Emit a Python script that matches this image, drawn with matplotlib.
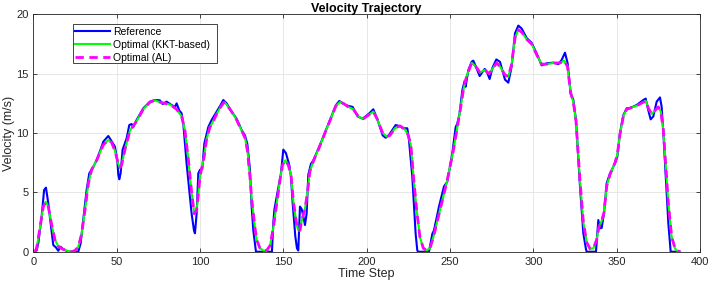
import matplotlib
matplotlib.use("Agg")
import matplotlib.pyplot as plt
from matplotlib.patches import Rectangle

# reference velocity (time step, m/s)
t_ref = [1, 2, 3, 5, 6.5, 7.6, 9, 10.4, 12, 13.6, 15, 16.4, 18, 21, 27, 28.4, 30, 32, 33.6, 36,
         38, 40.6, 42, 45, 46.6, 49, 50.4, 51, 51.6, 52.4, 53.6, 56, 57.6, 59, 60, 62, 66, 70, 73, 74,
         76, 77.6, 80, 83, 85, 86, 87.6, 89, 90, 91, 92, 93.6, 95, 96.4, 97, 98, 99, 100, 101.4, 102.6,
         105, 107, 110, 112.4, 114, 116, 119, 122, 125, 127, 128.4, 130, 131, 132, 133.6, 143.2, 144,
         144.6, 145.6, 148.6, 150, 151.6, 153.6, 154.6, 155.6, 157.2, 158.2, 159, 160, 161, 162, 163,
         164, 165, 166.6, 168, 171.6, 177.6, 181.6, 183.6, 185.6, 188.6, 191.6, 194.6, 197.6, 201.6,
         204, 206.6, 209.6, 211.4, 213.4, 217.4, 219.4, 222.4, 224.4, 225.4, 227.4, 229.4, 230.4, 231,
         237.4, 239.4, 240.4, 243.4, 246.4, 248.4, 251.4, 253.4, 254.4, 255.8, 257.4, 258.8, 259.4,
         261, 263, 264, 265.5, 267.8, 270.8, 272, 273.8, 275.5, 277.8, 280, 283, 285, 287, 289, 291,
         293, 296, 299, 302, 305, 308, 312, 315, 317, 319, 320.6, 322.4, 324, 325.6, 328, 330, 331.6,
         332, 337.6, 339, 340, 341, 342.4, 344, 346, 349, 350.4, 352, 354, 356, 358, 362, 366, 367.4,
         369, 370.4, 372, 374, 376, 377, 378, 379.6, 381, 382.4, 388]
v_ref = [0, 0.1, 0.7, 2.95, 5.2, 5.4, 4.1, 2.4, 0.56, 0.36, 0.08, 0.42, 0.2, 0, 0, 0.7, 2.67, 5.2, 6.6, 7.16,
         7.7, 8.7, 9.27, 9.75, 9.4, 8.85, 7.7, 6.5, 6.1, 6.6, 8.6, 9.55, 10.67, 10.76, 10.5, 11.1, 12.08, 12.64, 12.78, 12.78,
         12.75, 12.44, 12.64, 12.36, 12.2, 12.5, 11.9, 11.66, 10.8, 9.1, 7.4, 5.2, 3.2, 1.8, 1.55, 3.2, 6.6, 6.9, 7.0, 9.1,
         10.5, 11.1, 11.8, 12.36, 12.78, 12.5, 11.8, 11.2, 10.25, 9.8, 9.1, 6.9, 3.8, 1.8, 0, 0, 2.4,
         3.5, 4.3, 6.6, 8.6, 8.3, 7.3, 6.3, 4.1, 1.3, 0.28, 0.1, 3.8, 3.6, 3.0, 2.25,
         3.2, 6.5, 7.4, 7.7, 8.85, 10.95, 12.36, 12.7, 12.5, 12.3, 12.2, 11.4, 11.2, 11.66,
         12.0, 11.1, 9.8, 9.6, 9.83, 10.67, 10.6, 10.4, 10.4, 9.4, 6.3, 1.5, 0.1, 0,
         0, 1.5, 1.8, 3.8, 5.5, 5.9, 8.3, 10.5, 10.8, 11.66, 13.6, 14.4, 13.9,
         15.3, 16.0, 16.1, 15.6, 14.8, 15.4, 15.2, 14.55, 15.5, 16.2, 16.0, 14.5, 14.24, 15.6, 18.4, 19.05,
         18.8, 18.0, 17.6, 16.7, 15.7, 15.87, 15.93, 15.8, 16.15, 16.77, 15.87, 13.3, 12.8, 11.1, 5.5, 1.55, 0.2,
         0, 0, 2.67, 1.97, 2.0, 3.23, 5.76, 6.6, 7.44, 8.0, 10.0, 11.5, 12.08, 12.1, 12.36, 12.78, 12.9,
         11.9, 11.15, 11.4, 12.64, 13.0, 12.2, 10.0, 6.0, 2.4, 0, 0]

# optimal trajectory (both solvers give the same curve)
t_opt = [1, 2, 4, 6, 7.5, 9, 11, 13, 15, 18, 21, 23, 25, 27, 29, 31, 33, 35, 38, 42, 45, 47, 49, 51, 52,
         53, 55, 58, 60, 62, 66, 70, 73, 76, 79, 82, 86, 89, 91, 93, 95, 96.6, 98, 99, 100, 101, 102.5,
         104, 106, 108, 110, 112.4, 114.5, 116, 119, 122, 125, 127, 128.5, 130, 131, 133, 134, 136, 138,
         140, 142, 144, 146, 148, 149.5, 151.2, 153, 154.6, 156, 158, 159, 160, 161, 163, 164.5, 166,
         168, 171.6, 177.6, 181.6, 184, 186, 189, 192, 195, 198, 202, 204, 206.6, 209.6, 212, 214, 217,
         220, 223, 225, 226.5, 228, 230, 232, 234, 236, 238, 240, 244, 248, 252, 256, 258, 260, 263,
         265.5, 268, 270.8, 273.5, 275.5, 278, 280, 283, 285, 287, 289, 291, 293, 296, 299, 302, 305,
         308, 312, 316, 318.5, 320.5, 322.4, 324, 325.6, 328, 330, 332, 334, 336, 338, 339.4, 341,
         342.4, 344, 346, 349, 350.4, 352, 354, 356, 358, 362, 366, 367.5, 369, 371, 373, 375, 376.5,
         378, 381, 383, 385, 386, 388]
v_kkt = [0, 0.3, 2.0, 3.8, 4.2, 3.8, 2.3, 1.0, 0.45, 0.2, 0.05, 0, 0.1, 0.4, 1.5, 3.5, 5.7, 6.9, 7.7, 9.0, 9.4, 9.2, 8.5, 7.4, 7.1,
         7.3, 8.6, 10.2, 10.6, 11.0, 12.0, 12.6, 12.75, 12.6, 12.5, 12.4, 12.0, 11.4, 10.2, 7.8, 5.0, 3.2, 3.5, 4.8, 6.3, 7.0, 8.0,
         9.5, 10.5, 11.0, 11.6, 12.2, 12.6, 12.4, 11.8, 11.1, 10.2, 9.6, 8.5, 6.3, 4.5, 2.0, 1.0, 0.3, 0.1,
         0.1, 0.5, 2.0, 4.0, 6.0, 7.3, 7.7, 7.3, 6.5, 4.3, 2.3, 1.8, 1.8, 2.6, 3.6, 5.0, 6.8,
         7.6, 8.8, 10.9, 12.3, 12.6, 12.5, 12.2, 12.0, 11.4, 11.2, 11.6, 11.8, 11.1, 10.0, 9.7, 9.8, 10.4,
         10.6, 10.3, 9.8, 9.0, 6.5, 3.5, 1.2, 0.3, 0.1, 0.3, 1.2, 3.5, 5.8, 8.5, 11.8, 13.6, 14.8, 15.9,
         15.6, 15.1, 15.3, 15.0, 15.4, 15.9, 15.6, 14.9, 14.75, 15.8, 18.0, 18.7, 18.5, 17.9, 17.5, 16.6, 15.8,
         15.8, 15.9, 15.9, 16.1, 15.6, 13.4, 12.6, 11.0, 6.0, 2.5, 0.8, 0.25, 0.28, 1.0, 2.1, 2.6,
         3.3, 5.5, 6.5, 7.5, 8.2, 9.9, 11.4, 12.0, 12.1, 12.3, 12.6, 12.7, 12.1, 11.6, 11.9, 12.2, 11.8,
         10.25, 4.07, 1.26, 0.28, 0.1, 0.0]
v_al = list(v_kkt)

plt.rcParams['font.family'] = ['Liberation Sans', 'DejaVu Sans']

fig = plt.figure(figsize=(7.08, 2.84), dpi=100)
ax = fig.add_axes([0.047, 0.1137, 0.9417, 0.8359])

ax.plot(t_ref, v_ref, color='#0000ff', lw=1.5, label='Reference')
ax.plot(t_opt, v_kkt, color='#00ff00', lw=1.5, label='Optimal (KKT-based)')
ax.plot(t_opt, v_al, color='#ff00ff', lw=2, ls=(0, (3, 2)), label='Optimal (AL)')

ax.set_xlim(0, 400)
ax.set_ylim(0, 20)
ax.set_xticks(range(0, 401, 50))
ax.set_yticks(range(0, 21, 5))
ax.grid(True, color='#e3e3e3', lw=0.6)
ax.set_axisbelow(True)
ax.tick_params(direction='in', top=True, right=True, labelsize=8, colors='#262626', length=3, width=0.6)
for s in ax.spines.values():
    s.set_color('#262626')
    s.set_linewidth(0.6)

ax.set_xlabel('Time Step', fontsize=9, color='#262626', labelpad=1)
ax.set_ylabel('Velocity (m/s)', fontsize=9, color='#262626', labelpad=1)
ax.set_title('Velocity Trajectory', fontsize=9, fontweight='bold', pad=2)

# legend box drawn by hand (matlab style, extra room on the right)
ax.add_patch(Rectangle((0.059, 0.796), 0.216, 0.163, transform=ax.transAxes, facecolor='white',
                       edgecolor='#262626', lw=0.6, zorder=4))
leg = ax.legend(loc='upper left', bbox_to_anchor=(0.059, 0.959), borderaxespad=0, fontsize=7.5,
                frameon=False, handlelength=3.3, handletextpad=0.3, borderpad=0.25, labelspacing=0.3)
leg.set_zorder(5)

fig.savefig('out.png', dpi=100)
